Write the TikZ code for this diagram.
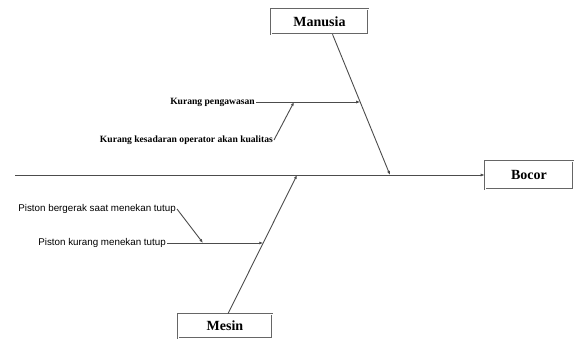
\documentclass[tikz,border=0pt]{standalone}
\usepackage{fontspec}
\setmainfont{Liberation Serif}
\setsansfont{Liberation Sans}
\usetikzlibrary{arrows.meta, calc}

\begin{document}
\begin{tikzpicture}[x=1pt, y=-1pt,
    kotak/.style={draw=black!60, double, double distance=0.8pt, line width=0.6pt, inner sep=0pt, font=\fontsize{14}{16}\selectfont\bfseries},
    sebab/.style={anchor=east, inner sep=1pt, font=\fontsize{9.6}{11}\selectfont\bfseries},
    sebabsf/.style={anchor=east, inner sep=1pt, font=\sffamily\fontsize{9.8}{11}\selectfont},
    panah/.style={draw=black!70, line width=0.9pt, -{Latex[length=4pt, width=3pt]}}]
    \useasboundingbox (0,0) rectangle (577,342);

    % kepala dan kategori
    \node[kotak, minimum width=97, minimum height=25] (manusia) at (319.5,21.5) {Manusia};
    \node[kotak, minimum width=88, minimum height=28] (bocor) at (529,175) {Bocor};
    \node[kotak, minimum width=94, minimum height=24] (mesin) at (225,326) {Mesin};

    % tulang utama
    \coordinate (ekor) at (15,175);
    \draw[panah] (ekor) -- (bocor.west);

    \coordinate (m0) at ($(manusia.south)+(13,0)$);
    \coordinate (m1) at (390,175);
    \coordinate (m2) at ($(m0)!0.482!(m1)$);
    \draw[panah] (m0) -- (m1);

    \coordinate (s0) at ($(mesin.north)+(3,0)$);
    \coordinate (s1) at (297,175);
    \coordinate (s2) at ($(s0)!0.511!(s1)$);
    \draw[panah] (s0) -- (s1);

    % sebab manusia
    \node[sebab] (k1) at (256,102) {Kurang pengawasan};
    \draw[panah] (k1.east) -- (k1.east -| m2);
    \node[sebab] (k2) at (274,140) {Kurang kesadaran operator akan kualitas};
    \coordinate (t1) at (294,102);
    \draw[panah] (k2.east) -- (t1);

    % sebab mesin
    \node[sebabsf] (p2) at (167,243) {Piston kurang menekan tutup};
    \draw[panah] (p2.east) -- (p2.east -| s2);
    \node[sebabsf] (p1) at (177,209) {Piston bergerak saat menekan tutup};
    \coordinate (t2) at (203,243);
    \draw[panah] (p1.east) -- (t2);

\end{tikzpicture}
\end{document}
